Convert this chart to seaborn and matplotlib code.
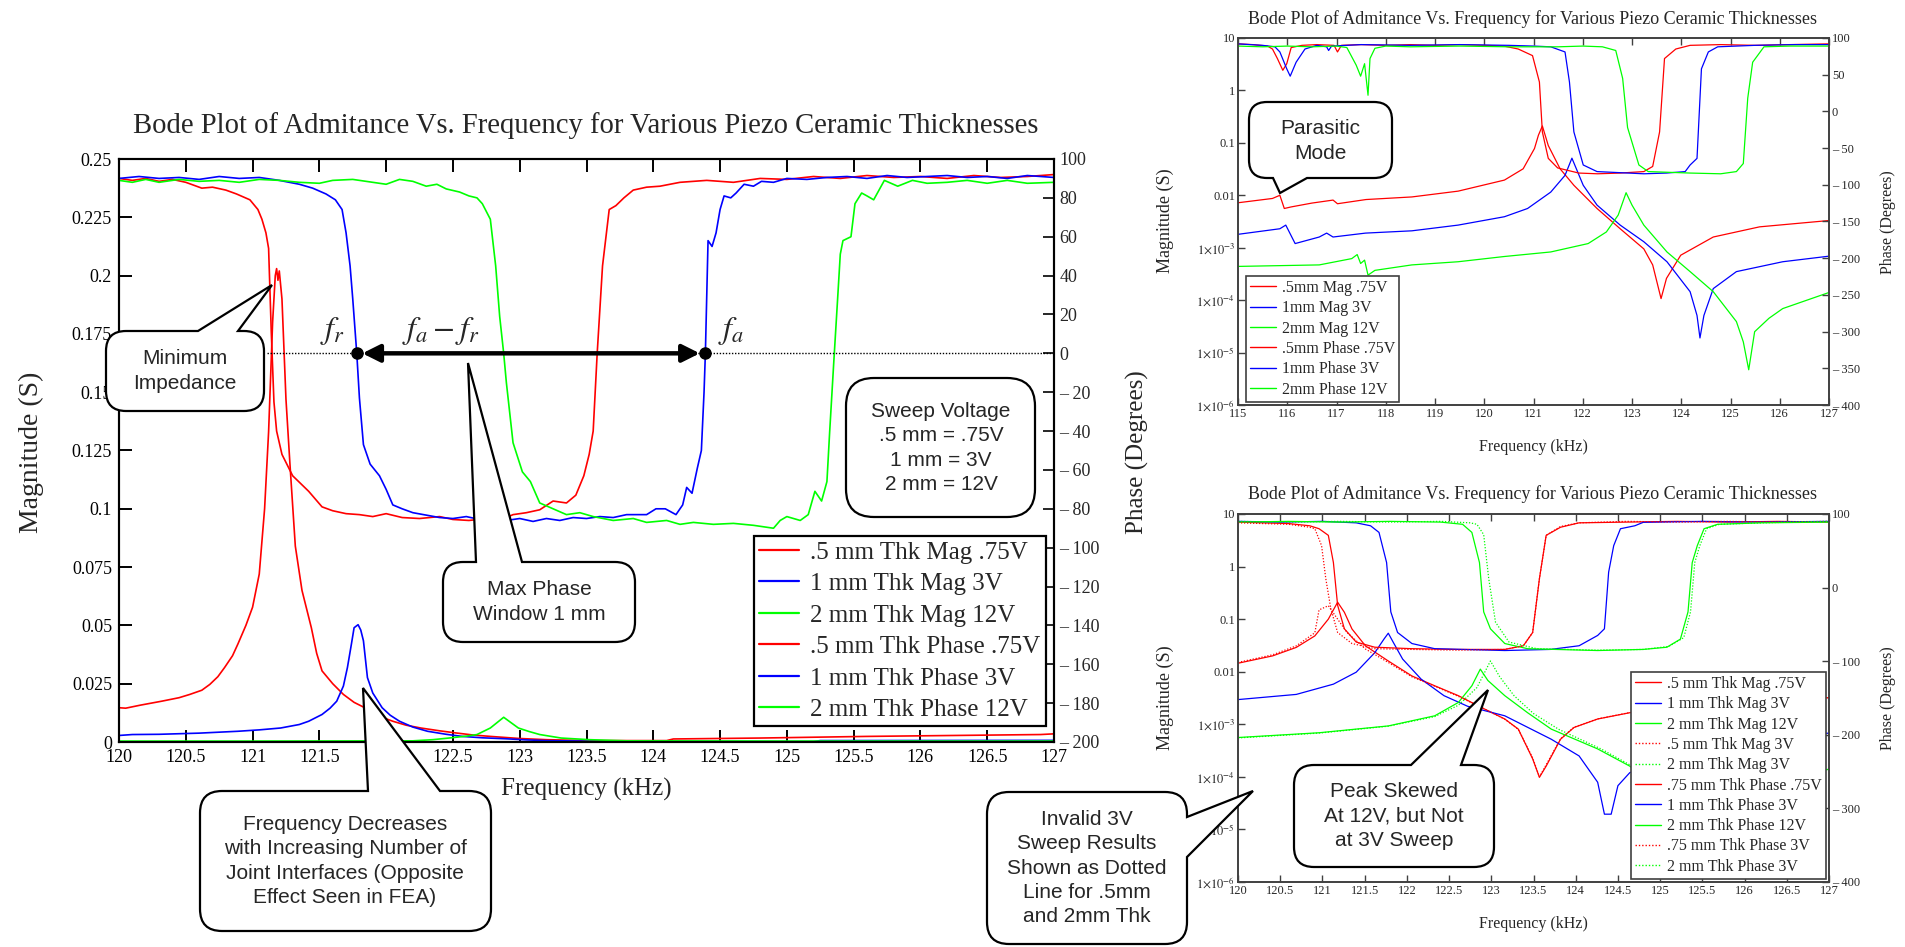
import matplotlib
matplotlib.use('Agg')
import matplotlib.pyplot as plt
import seaborn as sns
from matplotlib.path import Path
from matplotlib.patches import PathPatch
from matplotlib.lines import Line2D
from matplotlib.ticker import FixedLocator, FixedFormatter, NullLocator

sns.set_style('ticks')
plt.rcParams['font.family'] = ['Liberation Serif', 'DejaVu Serif']
plt.rcParams['mathtext.fontset'] = 'stix'

W, H = 1906, 947
RED, BLUE, GREEN = '#ff0000', '#0000ff', '#00ff00'

# ---------------- DATA : main plot (linear magnitude / phase) ----------------
main_title = 'Bode Plot of Admitance Vs. Frequency for Various Piezo Ceramic Thicknesses'
main_xticks = [120, 120.5, 121, 121.5, 122, 122.5, 123, 123.5, 124, 124.5, 125, 125.5, 126, 126.5, 127]
main_mag_ticks = [0, 0.025, 0.05, 0.075, 0.1, 0.125, 0.15, 0.175, 0.2, 0.225, 0.25]
main_phase_ticks = [-200, -180, -160, -140, -120, -100, -80, -60, -40, -20, 0, 20, 40, 60, 80, 100]

main_red_mag = [(120.0, 0.0147), (120.05, 0.0145), (120.16, 0.0158), (120.32, 0.0175), (120.45, 0.019),
                (120.53, 0.0204), (120.62, 0.0222), (120.68, 0.0247), (120.74, 0.028), (120.79, 0.0319),
                (120.85, 0.037), (120.89, 0.042), (120.95, 0.05), (121.0, 0.0578), (121.05, 0.072),
                (121.09, 0.1), (121.12, 0.133), (121.15, 0.18), (121.17, 0.2), (121.18, 0.203),
                (121.19, 0.198), (121.2, 0.202), (121.22, 0.19), (121.25, 0.147), (121.28, 0.119),
                (121.32, 0.084), (121.37, 0.065), (121.44, 0.049), (121.48, 0.038), (121.52, 0.0305),
                (121.6, 0.025), (121.68, 0.0204), (121.76, 0.017), (121.84, 0.0147), (121.95, 0.011),
                (122.05, 0.0089), (122.15, 0.0072), (122.26, 0.006), (122.4, 0.0048), (122.52, 0.0039),
                (122.65, 0.003), (122.78, 0.0024), (123.0, 0.0015), (123.2, 0.001), (123.5, 0.0006),
                (124.1, 0.0006), (124.15, 0.0013), (124.8, 0.0017), (125.6, 0.0024), (126.9, 0.0032),
                (127.0, 0.0035)]
main_blue_mag = [(120.0, 0.0028), (120.1, 0.0032), (120.3, 0.0033), (120.6, 0.0038), (120.89, 0.0046),
                 (121.05, 0.0052), (121.21, 0.006), (121.35, 0.0075), (121.42, 0.0089), (121.52, 0.0118),
                 (121.58, 0.0145), (121.63, 0.0175), (121.68, 0.024), (121.71, 0.0319), (121.74, 0.042),
                 (121.76, 0.049), (121.79, 0.0503), (121.81, 0.048), (121.83, 0.0434), (121.86, 0.0276),
                 (121.9, 0.021), (121.97, 0.0147), (122.03, 0.0115), (122.1, 0.0089), (122.2, 0.0064),
                 (122.31, 0.0046), (122.45, 0.0033), (122.57, 0.0024), (122.72, 0.0018), (122.89, 0.0014),
                 (123.05, 0.0009), (123.2, 0.0006), (123.6, 0.0003), (124.5, 0.0002), (125.2, 0.0002),
                 (125.25, 0.0006), (127.0, 0.0007)]
main_green_mag = [(120.0, 0.0004), (121.0, 0.0004), (122.2, 0.0005), (122.35, 0.001), (122.47, 0.0017),
                  (122.6, 0.0025), (122.68, 0.0032), (122.78, 0.006), (122.88, 0.0106), (122.93, 0.0085),
                  (122.99, 0.006), (123.07, 0.0045), (123.15, 0.0032), (123.31, 0.0017), (123.52, 0.001),
                  (123.8, 0.0005), (125.0, 0.0004), (127.0, 0.0004)]

main_red_phase = [(120.0, 90), (120.1, 89), (120.2, 90), (120.3, 88.5), (120.4, 89.5), (120.5, 88),
                  (120.62, 85), (120.7, 85.5), (120.8, 84), (120.88, 82), (120.98, 79), (121.04, 74),
                  (121.07, 69), (121.1, 62), (121.12, 54), (121.14, 11), (121.16, -25), (121.18, -40),
                  (121.22, -52), (121.3, -63), (121.36, -67), (121.42, -71), (121.52, -79), (121.6, -81),
                  (121.7, -82.5), (121.8, -83), (121.9, -84), (122.0, -82.5), (122.12, -84.5), (122.25, -85),
                  (122.4, -84), (122.5, -85.5), (122.62, -86), (122.75, -85), (122.85, -86), (122.95, -83),
                  (123.05, -82), (123.15, -80.5), (123.25, -76), (123.35, -77), (123.42, -73), (123.48, -63),
                  (123.52, -52), (123.55, -40), (123.58, 0), (123.62, 45), (123.67, 74), (123.72, 76),
                  (123.78, 80), (123.85, 84), (123.95, 85.5), (124.05, 86), (124.2, 88), (124.4, 89),
                  (124.6, 88), (124.8, 90), (125.0, 89.5), (125.2, 91), (125.4, 90), (125.6, 91.5),
                  (125.8, 90.5), (126.0, 91), (126.2, 90), (126.4, 91.5), (126.6, 90.5), (126.8, 91),
                  (127.0, 92)]
main_blue_phase = [(120.0, 90), (120.15, 91), (120.3, 90), (120.45, 90.5), (120.6, 89.5), (120.75, 91),
                   (120.9, 90), (121.05, 90.5), (121.2, 89), (121.35, 87), (121.45, 85), (121.55, 82),
                   (121.62, 79), (121.67, 74), (121.7, 62), (121.73, 45), (121.75, 28), (121.78, 0),
                   (121.8, -23), (121.83, -47), (121.88, -57), (121.95, -63), (122.0, -70), (122.05, -78),
                   (122.12, -80), (122.2, -82), (122.28, -83), (122.4, -84.5), (122.5, -85), (122.6, -84),
                   (122.7, -85.5), (122.8, -84.5), (122.9, -86), (123.0, -85), (123.1, -86.5), (123.2, -85),
                   (123.3, -86), (123.4, -84.5), (123.5, -85), (123.6, -84), (123.7, -84.5), (123.8, -83),
                   (123.95, -83), (124.02, -80), (124.09, -80), (124.17, -83), (124.22, -78), (124.25, -69),
                   (124.29, -72), (124.33, -59), (124.36, -50), (124.38, -20), (124.39, 0), (124.41, 58),
                   (124.44, 55), (124.47, 62), (124.5, 74), (124.53, 81), (124.58, 80), (124.62, 82.5),
                   (124.68, 87), (124.75, 86), (124.81, 88.5), (124.9, 88), (125.0, 90), (125.15, 89.5),
                   (125.3, 90.5), (125.45, 91), (125.6, 90), (125.75, 91.5), (125.9, 90.5), (126.05, 91),
                   (126.2, 91.5), (126.35, 90.5), (126.5, 91), (126.65, 90), (126.8, 91.5), (127.0, 90.5)]
main_green_phase = [(120.0, 89), (120.1, 88), (120.2, 89.5), (120.3, 88), (120.45, 89.5), (120.6, 88.5),
                    (120.75, 89), (120.9, 88), (121.05, 89.5), (121.2, 89), (121.35, 88), (121.5, 87.5),
                    (121.6, 89), (121.75, 89.5), (121.9, 88), (122.0, 87), (122.1, 89.5), (122.2, 88.5),
                    (122.3, 86), (122.38, 87), (122.45, 84.6), (122.55, 83), (122.62, 81), (122.68, 80),
                    (122.72, 77), (122.78, 69), (122.82, 45), (122.85, 19), (122.88, 0), (122.9, -15),
                    (122.95, -46), (123.02, -61), (123.08, -66), (123.15, -77), (123.25, -80), (123.35, -83),
                    (123.45, -82), (123.55, -84), (123.7, -86), (123.85, -85), (123.95, -87), (124.1, -86),
                    (124.2, -88), (124.3, -87), (124.45, -88), (124.6, -87.5), (124.75, -88.5), (124.9, -90),
                    (124.95, -86), (125.0, -84), (125.1, -86), (125.16, -83), (125.21, -71), (125.26, -76),
                    (125.3, -66), (125.32, -41), (125.35, -6), (125.38, 28), (125.4, 51), (125.42, 58),
                    (125.48, 60), (125.51, 77), (125.56, 82.5), (125.6, 81), (125.65, 79), (125.73, 89),
                    (125.83, 86), (125.94, 89), (126.05, 87.5), (126.2, 88), (126.35, 89), (126.5, 87.5),
                    (126.65, 89), (126.8, 87.5), (127.0, 88)]

# annotation values (main plot)
f_r = 121.78
f_a = 124.39
zero_line_start = 121.11

main_legend_labels = ['.5 mm Thk Mag .75V', '1 mm Thk Mag 3V', '2 mm Thk Mag 12V',
                      '.5 mm Thk Phase .75V', '1 mm Thk Phase 3V', '2 mm Thk Phase 12V']

# ---------------- DATA : upper right plot (115-127 kHz, log magnitude) ----------------
up_xticks = [115, 116, 117, 118, 119, 120, 121, 122, 123, 124, 125, 126, 127]
log_ticks = [1e-6, 1e-5, 1e-4, 1e-3, 0.01, 0.1, 1, 10]
log_tick_labels = [r'$1{\times}10^{-6}$', r'$1{\times}10^{-5}$', r'$1{\times}10^{-4}$',
                   r'$1{\times}10^{-3}$', '0.01', '0.1', '1', '10']
up_phase_ticks = [-400, -350, -300, -250, -200, -150, -100, -50, 0, 50, 100]

up_red_mag = [(115.0, 7.2e-3), (115.7, 8.7e-3), (115.85, 1.0e-2), (115.94, 5.6e-3), (116.08, 6.0e-3),
              (116.5, 7.1e-3), (116.93, 8.1e-3), (117.02, 6.9e-3), (117.6, 8.3e-3), (118.53, 9.3e-3),
              (119.47, 1.2e-2), (120.41, 1.95e-2), (120.79, 3.2e-2), (121.02, 7.8e-2), (121.1, 0.14),
              (121.18, 0.21), (121.3, 8.9e-2), (121.54, 3.2e-2), (121.82, 1.55e-2), (122.29, 5.6e-3),
              (122.76, 2.3e-3), (123.24, 9.5e-4), (123.42, 4.7e-4), (123.59, 1.07e-4), (123.7, 2.6e-4),
              (123.99, 7.2e-4), (124.65, 1.6e-3), (125.59, 2.5e-3), (127.0, 3.3e-3)]
up_blue_mag = [(115.0, 1.8e-3), (115.85, 2.3e-3), (115.97, 2.7e-3), (116.16, 1.2e-3), (116.65, 1.6e-3),
               (116.8, 1.9e-3), (116.93, 1.6e-3), (117.59, 1.9e-3), (118.53, 2.1e-3), (119.47, 2.7e-3),
               (120.41, 3.9e-3), (120.88, 5.6e-3), (121.35, 1.15e-2), (121.64, 2.4e-2), (121.78, 5.1e-2),
               (121.87, 3.2e-2), (122.01, 1.55e-2), (122.29, 6.5e-3), (122.76, 2.7e-3), (123.24, 1.3e-3),
               (123.71, 5.4e-4), (124.18, 1.45e-4), (124.32, 5.1e-5), (124.38, 1.9e-5), (124.46, 5.1e-5),
               (124.65, 1.66e-4), (125.12, 3.5e-4), (126.06, 5.4e-4), (127.0, 6.9e-4)]
up_green_mag = [(115.0, 4.4e-4), (116.65, 4.7e-4), (117.31, 6.2e-4), (117.42, 7.4e-4), (117.49, 5.0e-4),
                (117.57, 5.8e-4), (117.64, 3.0e-4), (117.78, 3.7e-4), (118.53, 4.7e-4), (119.47, 5.4e-4),
                (120.41, 6.8e-4), (121.35, 8.3e-4), (122.11, 1.2e-3), (122.48, 2.0e-3), (122.72, 4.2e-3),
                (122.88, 1.12e-2), (123.0, 6.5e-3), (123.24, 2.7e-3), (123.71, 8.3e-4), (124.18, 3.5e-4),
                (124.65, 1.45e-4), (125.12, 3.9e-5), (125.26, 1.6e-5), (125.37, 4.7e-6), (125.49, 2.5e-5),
                (125.78, 4.5e-5), (126.06, 6.9e-5), (127.0, 1.4e-4)]
up_red_phase = [(115.0, 92), (115.3, 91), (115.6, 89), (115.7, 85), (115.8, 72), (115.91, 56), (115.99, 65),
                (116.08, 87), (116.3, 90), (116.6, 91), (116.95, 90), (117.02, 81), (117.1, 90), (117.5, 91),
                (118.0, 90), (118.5, 91), (119.0, 90), (119.5, 91), (120.0, 90), (120.4, 89), (120.69, 85),
                (120.98, 76), (121.12, 40), (121.18, -28), (121.3, -64), (121.49, -77), (121.92, -84),
                (122.3, -85), (122.76, -84), (123.24, -82), (123.42, -75), (123.56, -28), (123.66, 72),
                (123.89, 85), (124.18, 90), (124.8, 91), (125.5, 90), (126.2, 91), (127.0, 92)]
up_blue_phase = [(115.0, 92), (115.5, 90), (115.75, 88), (115.85, 81), (115.99, 58), (116.06, 48),
                 (116.18, 67), (116.36, 85), (116.6, 90), (116.8, 88), (116.84, 83), (116.9, 89), (117.5, 91),
                 (118.5, 90), (119.5, 91), (120.5, 90), (121.0, 89), (121.35, 88), (121.64, 81), (121.73, 40),
                 (121.82, -28), (122.01, -73), (122.29, -82), (123.24, -85), (123.7, -84), (124.08, -82),
                 (124.18, -73), (124.32, -64), (124.41, 58), (124.55, 81), (124.74, 88), (125.5, 90),
                 (126.3, 91), (127.0, 91)]
up_green_phase = [(115.0, 89), (115.5, 88), (116.0, 89), (116.5, 88), (117.0, 89), (117.21, 87), (117.4, 63),
                  (117.49, 48), (117.57, 65), (117.64, 22), (117.68, 72), (117.78, 86), (118.0, 89),
                  (118.5, 88), (119.5, 89), (120.5, 88), (121.5, 88), (122.0, 89), (122.4, 88), (122.67, 83),
                  (122.81, 45), (122.91, -22), (123.14, -73), (123.33, -82), (124.18, -84), (124.8, -85),
                  (125.12, -82), (125.26, -71), (125.35, 18), (125.45, 67), (125.68, 88), (126.2, 89),
                  (127.0, 89)]
up_legend_labels = ['.5mm Mag .75V', '1mm Mag 3V', '2mm Mag 12V',
                    '.5mm Phase .75V', '1mm Phase 3V', '2mm Phase 12V']

# ---------------- DATA : lower right plot (120-127 kHz, 12V vs 3V sweeps) ----------------
lo_xticks = main_xticks
lo_phase_ticks = [-400, -300, -200, -100, 0, 100]

lo_red_mag = [(120.0, 1.45e-2), (120.41, 2.0e-2), (120.69, 2.9e-2), (120.91, 4.8e-2), (121.07, 0.1),
              (121.18, 0.21), (121.26, 0.135), (121.35, 6.5e-2), (121.51, 3.1e-2), (121.78, 1.6e-2),
              (122.06, 8.3e-3), (122.33, 5.4e-3), (122.61, 3.5e-3), (122.88, 2.1e-3), (123.16, 1.26e-3),
              (123.32, 8.1e-4), (123.49, 2.2e-4), (123.57, 9.8e-5), (123.65, 1.6e-4), (123.82, 5.2e-4),
              (123.98, 8.7e-4), (124.26, 1.26e-3), (124.64, 1.66e-3), (125.5, 2.3e-3), (126.3, 2.9e-3),
              (127.0, 3.2e-3)]
lo_red_mag_3v = [(120.0, 1.5e-2), (120.41, 2.1e-2), (120.69, 3.1e-2), (120.91, 5.5e-2), (120.96, 0.15),
                 (121.07, 0.18), (121.18, 0.1), (121.29, 5.6e-2), (121.51, 2.7e-2), (121.78, 1.5e-2),
                 (122.06, 8.0e-3), (122.33, 5.3e-3), (122.61, 3.4e-3), (122.88, 2.1e-3), (123.16, 1.25e-3),
                 (123.32, 8.0e-4), (123.49, 2.3e-4), (123.57, 1.0e-4), (123.65, 1.7e-4), (123.82, 5.3e-4),
                 (123.98, 8.8e-4), (124.26, 1.27e-3), (124.64, 1.67e-3), (125.5, 2.3e-3), (126.3, 2.9e-3),
                 (127.0, 3.2e-3)]
lo_blue_mag = [(120.0, 2.95e-3), (120.69, 3.7e-3), (121.13, 5.8e-3), (121.4, 9.8e-3), (121.62, 2.3e-2),
               (121.73, 4.2e-2), (121.78, 5.4e-2), (121.84, 3.6e-2), (121.95, 1.74e-2), (122.17, 7.2e-3),
               (122.44, 3.5e-3), (122.72, 2.2e-3), (123.16, 1.45e-3), (123.71, 5.2e-4), (124.04, 2.5e-4),
               (124.26, 7.9e-5), (124.34, 1.95e-5), (124.42, 1.95e-5), (124.5, 6.8e-5), (124.64, 1.2e-4),
               (125.3, 3.2e-4), (126.2, 5.2e-4), (127.0, 6.8e-4)]
lo_green_mag = [(120.0, 5.6e-4), (120.96, 6.9e-4), (121.78, 9.3e-4), (122.33, 1.45e-3), (122.61, 2.6e-3),
                (122.77, 5.4e-3), (122.87, 1.12e-2), (122.96, 6.8e-3), (123.16, 3.5e-3), (123.43, 1.66e-3),
                (123.71, 8.1e-4), (124.26, 3.4e-4), (124.64, 1.6e-4), (125.12, 4e-5), (125.26, 1.7e-5),
                (125.37, 5e-6), (125.49, 2.6e-5), (125.78, 4.6e-5), (126.06, 7e-5), (127.0, 1.4e-4)]
lo_green_mag_3v = [(120.0, 5.5e-4), (120.96, 6.8e-4), (121.78, 9.2e-4), (122.33, 1.4e-3), (122.61, 2.3e-3),
                   (122.83, 5.0e-3), (122.99, 1.6e-2), (123.1, 8.0e-3), (123.27, 3.5e-3), (123.5, 1.6e-3),
                   (123.8, 8.0e-4), (124.3, 3.4e-4), (124.7, 1.5e-4), (125.15, 4e-5), (125.3, 1.6e-5),
                   (125.4, 5e-6), (125.52, 2.6e-5), (125.8, 4.6e-5), (126.1, 7e-5), (127.0, 1.4e-4)]
lo_red_phase = [(120.0, 89), (120.3, 88), (120.6, 87), (120.85, 84), (120.96, 80), (121.07, 71), (121.13, 34),
                (121.18, -24), (121.26, -56), (121.4, -74), (121.62, -81), (122.06, -83), (122.6, -84),
                (123.16, -84), (123.38, -79), (123.49, -61), (123.57, 12), (123.65, 71), (123.82, 82),
                (124.04, 88), (124.6, 89), (125.2, 90), (125.8, 89), (126.4, 90), (127.0, 89)]
lo_red_phase_3v = [(120.0, 88), (120.3, 87), (120.6, 86), (120.85, 82), (120.91, 80), (120.99, 57),
                   (121.04, 12), (121.1, -29), (121.18, -61), (121.35, -76), (121.62, -83), (122.06, -84),
                   (122.6, -85), (123.16, -84), (123.38, -79), (123.49, -61), (123.57, 12), (123.65, 71),
                   (123.82, 83), (124.04, 88), (124.6, 90), (125.2, 89), (125.8, 90), (126.4, 89), (127.0, 90)]
lo_blue_phase = [(120.0, 90), (120.5, 89), (121.0, 90), (121.4, 88), (121.57, 84), (121.67, 75), (121.76, 34),
                 (121.81, -33), (121.89, -61), (122.06, -76), (122.33, -83), (123.16, -85.5), (123.7, -84),
                 (124.04, -79), (124.26, -65), (124.34, -56), (124.39, 21), (124.45, 57), (124.53, 80),
                 (124.7, 84), (124.8, 88.7), (125.5, 90), (126.2, 89), (127.0, 90)]
lo_green_phase = [(120.0, 89), (120.6, 90), (121.2, 89), (121.8, 90), (122.4, 89), (122.66, 86), (122.77, 75),
                  (122.86, 34), (122.91, -33), (122.99, -56), (123.16, -76), (123.43, -83), (124.26, -85.5),
                  (124.8, -84), (125.08, -81), (125.24, -70), (125.33, -33), (125.38, 34), (125.44, 57),
                  (125.52, 80), (125.68, 86), (126.2, 88), (127.0, 89)]
lo_green_phase_3v = [(120.0, 90), (120.6, 89), (121.2, 90), (121.8, 89), (122.4, 90), (122.75, 88),
                     (122.83, 86), (122.91, 72), (122.97, 12), (123.05, -47), (123.21, -74), (123.54, -83),
                     (124.26, -85), (124.8, -84), (125.1, -80), (125.28, -68), (125.36, -33), (125.41, 34),
                     (125.47, 57), (125.55, 80), (125.7, 86), (126.2, 88), (127.0, 90)]
lo_legend_labels = ['.5 mm Thk Mag .75V', '1 mm Thk Mag 3V', '2 mm Thk Mag 12V', '.5 mm Thk Mag 3V',
                    '2 mm Thk Mag 3V', '.75 mm Thk Phase .75V', '1 mm Thk Phase 3V', '2 mm Thk Phase 12V',
                    '.75 mm Thk Phase 3V', '2 mm Thk Phase 3V']

# ---------------- FIGURE ----------------
fig = plt.figure(figsize=(W / 100, H / 100), dpi=100)
fig.patch.set_facecolor('white')


def axes_px(l, t, r, b):
    return fig.add_axes([l / W, 1 - b / H, (r - l) / W, (b - t) / H])


def ftext(x, y, s, **kw):
    return fig.text(x / W, 1 - y / H, s, **kw)


def line(ax, pairs, color, ls='-', lw=1.0):
    f, v = zip(*pairs)
    sns.lineplot(x=list(f), y=list(v), ax=ax, color=color, lw=lw, linestyle=ls,
                 estimator=None, sort=False, legend=False)


def phase_fmt(ticks):
    return [('– %d' % abs(t)) if t < 0 else '%d' % t for t in ticks]


DOT = (0, (1, 1.4))

# ---- main plot ----
ax = axes_px(119, 159, 1054, 742)
ax2 = ax.twinx()
for pairs, c in [(main_red_mag, RED), (main_blue_mag, BLUE), (main_green_mag, GREEN)]:
    line(ax, pairs, c, lw=1.2)
for pairs, c in [(main_red_phase, RED), (main_blue_phase, BLUE), (main_green_phase, GREEN)]:
    line(ax2, pairs, c, lw=1.2)
ax.set_xlim(120, 127)
ax.set_ylim(0, 0.25)
ax2.set_ylim(-200, 100)
ax.xaxis.set_major_locator(FixedLocator(main_xticks))
ax.xaxis.set_major_formatter(FixedFormatter(['%g' % t for t in main_xticks]))
ax.yaxis.set_major_locator(FixedLocator(main_mag_ticks))
ax.yaxis.set_major_formatter(FixedFormatter(['%g' % t for t in main_mag_ticks]))
ax2.yaxis.set_major_locator(FixedLocator(main_phase_ticks))
ax2.yaxis.set_major_formatter(FixedFormatter(phase_fmt(main_phase_ticks)))
ax.tick_params(axis='both', direction='in', length=9, width=1.4, labelsize=13, pad=5, top=True, colors='black')
ax2.tick_params(axis='y', direction='in', length=8, width=1.4, labelsize=13, pad=4)
for a in (ax, ax2):
    for s in a.spines.values():
        s.set_linewidth(1.5)
        s.set_color('black')
    a.set_xlabel('')
    a.set_ylabel('')

ax2.plot([zero_line_start, 127], [0, 0], linestyle=(0, (1, 1.2)), color='black', lw=1.0)
ax2.annotate('', xy=(f_a, 0), xytext=(f_r, 0),
             arrowprops=dict(arrowstyle='<|-|>,head_length=0.7,head_width=0.35', lw=3.2, color='black',
                             shrinkA=4, shrinkB=4, mutation_scale=15))
ax2.plot([f_r, f_a], [0, 0], 'o', ms=8, color='black')
ax2.text(121.6, 11.5, r'$f_r$', fontsize=23, ha='center', va='center')
ax2.text(122.41, 11.5, r'$f_a - f_r$', fontsize=23, ha='center', va='center')
ax2.text(124.58, 11.5, r'$f_a$', fontsize=23, ha='center', va='center')

handles = [Line2D([0], [0], color=c, lw=1.6) for c in (RED, BLUE, GREEN, RED, BLUE, GREEN)]
leg = ax2.legend(handles, main_legend_labels, loc='upper left', bbox_to_anchor=(754 / W, 1 - 536 / H),
                 bbox_transform=fig.transFigure, borderaxespad=0, fontsize=18, frameon=True, fancybox=False,
                 framealpha=1, edgecolor='black', handlelength=1.6, handletextpad=0.45, borderpad=0.2,
                 labelspacing=0.36)
leg.get_frame().set_linewidth(1.6)

ftext(586, 126, main_title, fontsize=20.6, ha='center', va='center')
ftext(586, 789, 'Frequency (kHz)', fontsize=18, ha='center', va='center')
ftext(31, 452, 'Magnitude (S)', fontsize=20, ha='center', va='center', rotation=90)
ftext(1137, 452, 'Phase (Degrees)', fontsize=18, ha='center', va='center', rotation=90)


# ---- small plots ----
def setup_small(axm, axp, xlim, xticks, phase_ticks, ylim_p):
    axm.set_yscale('log')
    axm.set_xlim(*xlim)
    axm.set_ylim(1e-6, 10)
    axp.set_ylim(*ylim_p)
    axm.xaxis.set_major_locator(FixedLocator(xticks))
    axm.xaxis.set_major_formatter(FixedFormatter(['%g' % t for t in xticks]))
    axm.yaxis.set_major_locator(FixedLocator(log_ticks))
    axm.yaxis.set_major_formatter(FixedFormatter(log_tick_labels))
    axm.yaxis.set_minor_locator(NullLocator())
    axp.yaxis.set_major_locator(FixedLocator(phase_ticks))
    axp.yaxis.set_major_formatter(FixedFormatter(phase_fmt(phase_ticks)))
    axm.tick_params(axis='both', direction='in', length=5, width=1.0, labelsize=9, pad=2, top=True,
                    color='#404040')
    axp.tick_params(axis='y', direction='in', length=5, width=1.0, labelsize=9, pad=2, color='#404040')
    for a in (axm, axp):
        for s in a.spines.values():
            s.set_linewidth(1.2)
            s.set_color('#404040')
        a.set_xlabel('')
        a.set_ylabel('')


# upper right
au = axes_px(1238, 38, 1829, 405)
au2 = au.twinx()
for pairs, c in [(up_red_mag, RED), (up_blue_mag, BLUE), (up_green_mag, GREEN)]:
    line(au, pairs, c, lw=0.9)
for pairs, c in [(up_red_phase, RED), (up_blue_phase, BLUE), (up_green_phase, GREEN)]:
    line(au2, pairs, c, lw=0.9)
setup_small(au, au2, (115, 127), up_xticks, up_phase_ticks, (-400, 100))
h_up = [Line2D([0], [0], color=c, lw=1.0) for c in (RED, BLUE, GREEN, RED, BLUE, GREEN)]
lg = au2.legend(h_up, up_legend_labels, loc='upper left', bbox_to_anchor=(1246 / W, 1 - 276 / H),
                bbox_transform=fig.transFigure, borderaxespad=0, fontsize=11.5, fancybox=False, framealpha=1,
                edgecolor='#404040', handlelength=1.6, handletextpad=0.4, borderpad=0.25, labelspacing=0.27)
lg.get_frame().set_linewidth(1.2)
ftext(1533, 19, main_title, fontsize=13, ha='center', va='center')
ftext(1533, 447, 'Frequency (kHz)', fontsize=11.5, ha='center', va='center')
ftext(1165, 221, 'Magnitude (S)', fontsize=13, ha='center', va='center', rotation=90)
ftext(1888, 222, 'Phase (Degrees)', fontsize=11.5, ha='center', va='center', rotation=90)

# lower right
al = axes_px(1238, 514, 1829, 882)
al2 = al.twinx()
for pairs, c, ls in [(lo_red_mag, RED, '-'), (lo_blue_mag, BLUE, '-'), (lo_green_mag, GREEN, '-'),
                     (lo_red_mag_3v, RED, DOT), (lo_green_mag_3v, GREEN, DOT)]:
    line(al, pairs, c, ls=ls, lw=0.9)
for pairs, c, ls in [(lo_red_phase, RED, '-'), (lo_blue_phase, BLUE, '-'), (lo_green_phase, GREEN, '-'),
                     (lo_red_phase_3v, RED, DOT), (lo_green_phase_3v, GREEN, DOT)]:
    line(al2, pairs, c, ls=ls, lw=0.9)
setup_small(al, al2, (120, 127), lo_xticks, lo_phase_ticks, (-400, 100))
lo_styles = [(RED, '-'), (BLUE, '-'), (GREEN, '-'), (RED, DOT), (GREEN, DOT),
             (RED, '-'), (BLUE, '-'), (GREEN, '-'), (RED, DOT), (GREEN, DOT)]
h_lo = [Line2D([0], [0], color=c, lw=1.0, linestyle=ls) for c, ls in lo_styles]
lg2 = al2.legend(h_lo, lo_legend_labels, loc='upper left', bbox_to_anchor=(1631 / W, 1 - 672 / H),
                 bbox_transform=fig.transFigure, borderaxespad=0, fontsize=11.5, fancybox=False, framealpha=1,
                 edgecolor='#404040', handlelength=1.6, handletextpad=0.4, borderpad=0.25, labelspacing=0.27)
lg2.get_frame().set_linewidth(1.2)
ftext(1533, 494, main_title, fontsize=13, ha='center', va='center')
ftext(1533, 924, 'Frequency (kHz)', fontsize=11.5, ha='center', va='center')
ftext(1165, 698, 'Magnitude (S)', fontsize=13, ha='center', va='center', rotation=90)
ftext(1888, 698, 'Phase (Degrees)', fontsize=11.5, ha='center', va='center', rotation=90)


# ---- callouts ----
def draw_callout(box, r, tail, text, c, fs=15, ls=1.35):
    x0, y0, x1, y1 = box
    verts, codes = [], []

    def add(code, pt):
        codes.append(code)
        verts.append(pt)
    add(Path.MOVETO, (x0 + r, y0))
    if tail and tail[0] == 'top':
        for p in tail[1:]:
            add(Path.LINETO, p)
    add(Path.LINETO, (x1 - r, y0))
    add(Path.CURVE3, (x1, y0)); add(Path.CURVE3, (x1, y0 + r))
    if tail and tail[0] == 'right':
        for p in tail[1:]:
            add(Path.LINETO, p)
    add(Path.LINETO, (x1, y1 - r))
    add(Path.CURVE3, (x1, y1)); add(Path.CURVE3, (x1 - r, y1))
    if tail and tail[0] == 'bottom':
        for p in tail[1:]:
            add(Path.LINETO, p)
    add(Path.LINETO, (x0 + r, y1))
    add(Path.CURVE3, (x0, y1)); add(Path.CURVE3, (x0, y1 - r))
    add(Path.LINETO, (x0, y0 + r))
    add(Path.CURVE3, (x0, y0)); add(Path.CURVE3, (x0 + r, y0))
    add(Path.CLOSEPOLY, (x0 + r, y0))
    verts = [(x / W, 1 - y / H) for x, y in verts]
    patch = PathPatch(Path(verts, codes), facecolor='white', edgecolor='black', lw=1.6,
                      transform=fig.transFigure, zorder=20)
    fig.add_artist(patch)
    ftext(c[0], c[1], text, ha='center', va='center', fontsize=fs, family=['Liberation Sans', 'DejaVu Sans'],
          linespacing=ls, zorder=21)


callouts = [
    ((106, 331, 264, 411), 20, ('top', (198, 331), (272, 285), (238, 331)), 'Minimum\nImpedance', (185, 371)),
    ((443, 562, 635, 642), 20, ('top', (476, 562), (468, 363), (522, 562)), 'Max Phase\nWindow 1 mm', (539, 602)),
    ((200, 791, 491, 931), 22, ('top', (368, 791), (363, 688), (440, 791)),
     'Frequency Decreases\nwith Increasing Number of\nJoint Interfaces (Opposite\nEffect Seen in FEA)', (345, 861)),
    ((846, 378, 1035, 517), 28, None, 'Sweep Voltage\n.5 mm = .75V\n1 mm = 3V\n2 mm = 12V', (941, 448)),
    ((1249, 102, 1392, 178), 18, ('bottom', (1307, 178), (1280, 193), (1273, 178)), 'Parasitic\nMode', (1320, 141)),
    ((1294, 765, 1494, 867), 20, ('top', (1411, 765), (1488, 690), (1461, 765)),
     'Peak Skewed\nAt 12V, but Not\nat 3V Sweep', (1394, 816)),
    ((987, 792, 1187, 944), 22, ('right', (1187, 817), (1253, 791), (1187, 857)),
     'Invalid 3V\nSweep Results\nShown as Dotted\nLine for .5mm\nand 2mm Thk', (1087, 868)),
]
for box, r, tail, text, c in callouts:
    draw_callout(box, r, tail, text, c)

fig.savefig('out.png', dpi=100, facecolor='white')
